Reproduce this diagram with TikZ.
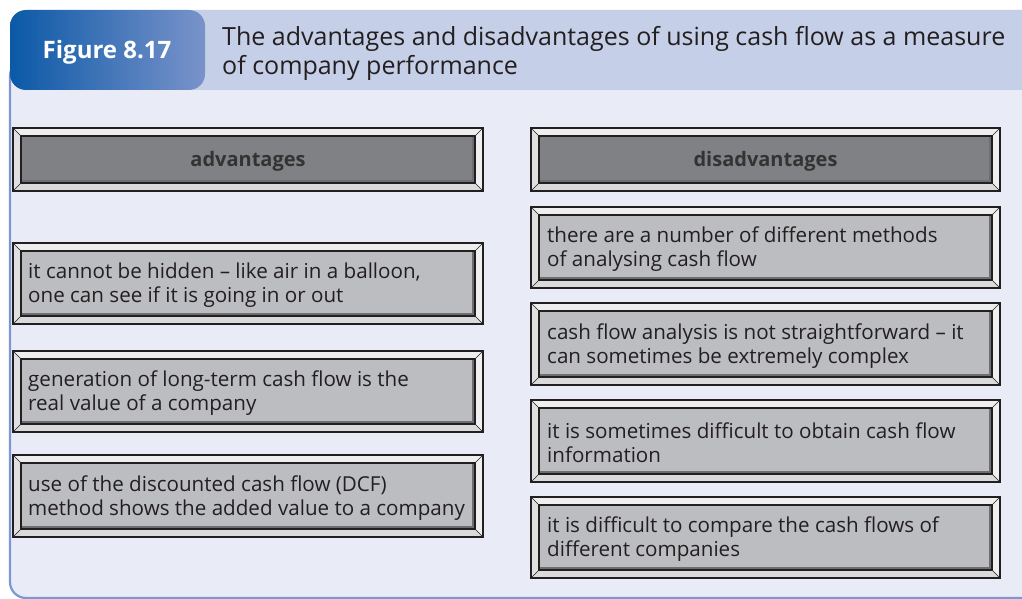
\documentclass[tikz,border=0pt]{standalone}
\usepackage{fontspec}
\setmainfont{Open Sans}
\usetikzlibrary{calc}
\definecolor{panel}{HTML}{E9EBF7}
\definecolor{band}{HTML}{C6CFE8}
\definecolor{rim}{HTML}{7D97D1}
\definecolor{labL}{HTML}{0B59A7}
\definecolor{labR}{HTML}{7A93CA}
\definecolor{hdrfill}{HTML}{808184}
\definecolor{itemfill}{HTML}{BCBDC0}
\definecolor{ink}{HTML}{231F20}
\definecolor{hdrink}{HTML}{333333}
\definecolor{bevT}{HTML}{EEEEEE}
\definecolor{bevL}{HTML}{E0E0E0}
\definecolor{bevB}{HTML}{DADADA}
\definecolor{bevR}{HTML}{F0F0F0}
\definecolor{edgec}{HTML}{231F20}
\definecolor{shadowc}{HTML}{6D6E71}
\tikzset{
  itemtext/.style={anchor=west, align=left, inner sep=0pt, text=ink,
    font=\fontsize{20.6}{24}\selectfont},
  hdrtext/.style={anchor=center, inner sep=0pt, text=hdrink,
    font=\bfseries\fontsize{20}{24}\selectfont},
  outerline/.style={draw=edgec, line width=1.3pt},
  innerline/.style={draw=edgec, line width=1.1pt},
  diag/.style={draw=edgec, line width=0.6pt},
}
% #1 name, #2 x1, #3 y1, #4 x2, #5 y2, #6 fill, #7 text style, #8 text x, #9 text
\newcommand\bevbox[9]{%
  \coordinate (#1-A) at (#2,#3);
  \coordinate (#1-B) at (#4,#3);
  \coordinate (#1-C) at (#4,#5);
  \coordinate (#1-D) at (#2,#5);
  \coordinate (#1-a) at (#2+8,#3+8);
  \coordinate (#1-b) at (#4-8,#3+8);
  \coordinate (#1-c) at (#4-8,#5-8);
  \coordinate (#1-d) at (#2+8,#5-8);
  \fill[bevT] (#1-A)--(#1-B)--(#1-b)--(#1-a)--cycle;
  \fill[bevR] (#1-B)--(#1-C)--(#1-c)--(#1-b)--cycle;
  \fill[bevB] (#1-C)--(#1-D)--(#1-d)--(#1-c)--cycle;
  \fill[bevL] (#1-D)--(#1-A)--(#1-a)--(#1-d)--cycle;
  \draw[diag] (#1-A)--(#1-a) (#1-B)--(#1-b) (#1-C)--(#1-c) (#1-D)--(#1-d);
  \fill[#6] (#1-a) rectangle (#1-c);
  \draw[draw=shadowc, line width=2pt] ($(#1-d)+(1,-1.8)$)--($(#1-c)+(-1.8,-1.8)$)--($(#1-b)+(-1.8,1)$);
  \draw[innerline] (#1-a) rectangle (#1-c);
  \draw[outerline] (#1-A) rectangle (#1-C);
  \node[#7] (#1) at (#8,{(#3+#5)/2+2}) {#9};
}
\begin{document}
\begin{tikzpicture}[x=1pt,y=-1pt]
\useasboundingbox (0,0) rectangle (1022,599);
\fill[white] (0,0) rectangle (1022,599);
% panel
\begin{scope}
\clip (0,0) rectangle (1022,599);
\fill[panel, draw=rim, line width=2.2pt, rounded corners=16pt] (10,60) rectangle (1040,598);
\fill[band, rounded corners=16pt] (180,10) rectangle (1040,90);
\end{scope}
\shade[left color=labL, right color=labR, rounded corners=16pt] (10,10) rectangle (205,90);
\node[text=white, font=\bfseries\fontsize{24}{28}\selectfont, inner sep=0pt] (fig) at (107,52) {Figure 8.17};
\node[anchor=west, align=left, inner sep=0pt, text=ink,
      font=\fontsize{25}{29}\selectfont] (title) at (222,53)
  {The advantages and disadvantages of using cash flow as a measure\\of company performance};
% headers
\bevbox{adv}{13}{128}{483}{191}{hdrfill}{hdrtext}{248}{advantages}
\bevbox{dis}{531}{128}{1000}{191}{hdrfill}{hdrtext}{765.5}{disadvantages}
% left items
\bevbox{a1}{13}{243}{483}{324}{itemfill}{itemtext}{28}{it cannot be hidden -- like air in a balloon,\\one can see if it is going in or out}
\bevbox{a2}{13}{351}{483}{432}{itemfill}{itemtext}{28}{generation of long-term cash flow is the\\real value of a company}
\bevbox{a3}{13}{455}{483}{537}{itemfill}{itemtext}{28}{use of the discounted cash flow (DCF)\\method shows the added value to a company}
% right items
\bevbox{d1}{531}{207}{1000}{288}{itemfill}{itemtext}{547}{there are a number of different methods\\of analysing cash flow}
\bevbox{d2}{531}{303}{1000}{385}{itemfill}{itemtext}{547}{cash flow analysis is not straightforward -- it\\can sometimes be extremely complex}
\bevbox{d3}{531}{400}{1000}{482}{itemfill}{itemtext}{547}{it is sometimes difficult to obtain cash flow\\information}
\bevbox{d4}{531}{497}{1000}{578}{itemfill}{itemtext}{547}{it is difficult to compare the cash flows of\\different companies}
\end{tikzpicture}
\end{document}
